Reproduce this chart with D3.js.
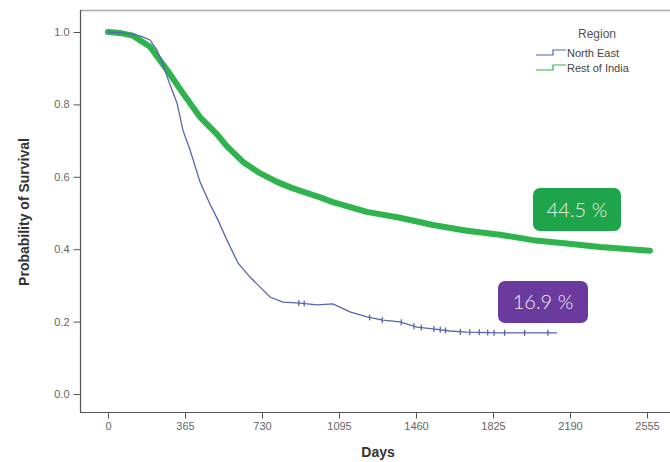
<!DOCTYPE html>
<html>
<head>
<meta charset="utf-8">
<script src="https://cdn.jsdelivr.net/npm/d3@7"></script>
<style>
  body { margin: 0; background: #fff; }
  svg { display: block; font-family: "Liberation Sans", Arial, sans-serif; }
  .axis text { fill: #666; font-size: 11px; }
  .axis line { stroke: #555; }
  .axis path { display: none; }
</style>
</head>
<body>
<div id="chart"></div>
<script>
// survival curves
var roiDays = [0, 60, 118, 199, 280, 355, 436, 517, 564, 640, 720, 801, 877, 1005, 1066, 1227, 1384, 1540, 1701, 1858, 2014, 2175, 2332, 2569];
var roiSurv = [1.0, 0.997, 0.99, 0.959, 0.895, 0.831, 0.765, 0.717, 0.684, 0.641, 0.610, 0.586, 0.568, 0.543, 0.530, 0.503, 0.487, 0.467, 0.451, 0.440, 0.425, 0.416, 0.406, 0.396];

var neDays = [0, 80, 152, 199, 232, 256, 294, 327, 355, 389, 436, 483, 521, 564, 616, 673, 720, 768, 829, 910, 991, 1066, 1147, 1227, 1303, 1384, 1464, 1540, 1621, 1701, 1858, 2128];
var neSurv = [1.0, 0.997, 0.989, 0.978, 0.950, 0.917, 0.854, 0.804, 0.729, 0.674, 0.586, 0.525, 0.481, 0.425, 0.362, 0.323, 0.296, 0.268, 0.254, 0.251, 0.246, 0.249, 0.227, 0.213, 0.204, 0.199, 0.185, 0.180, 0.174, 0.171, 0.169, 0.169];
var neCensored = [905, 930, 1240, 1300, 1390, 1450, 1485, 1545, 1575, 1600, 1670, 1715, 1760, 1800, 1830, 1880, 1975, 2085];

var xTicks = [0, 365, 730, 1095, 1460, 1825, 2190, 2555];
var yTicks = [0, 0.2, 0.4, 0.6, 0.8, 1.0];

var legendTitle = "Region";
var groups = ["North East", "Rest of India"];
var groupColors = ["#5862b4", "#2fb34c"];
var callouts = [
  {text: "44.5 %", fill: "#1ea54b"},
  {text: "16.9 %", fill: "#6b3a9e"}
];

var width = 670, height = 462;
var svg = d3.select("#chart").append("svg")
    .attr("width", width)
    .attr("height", height);

var xScale = d3.scaleLinear().domain([0, 2555]).range([108, 647]);
var yScale = d3.scaleLinear().domain([0, 1]).range([394, 32]);

// frame
svg.append("line").attr("x1", 80).attr("x2", 670).attr("y1", 10.5).attr("y2", 10.5)
    .attr("stroke", "#aaa").attr("stroke-width", 1.5);
svg.append("line").attr("x1", 80.5).attr("x2", 80.5).attr("y1", 10).attr("y2", 412)
    .attr("stroke", "#555").attr("stroke-width", 1.2);
svg.append("line").attr("x1", 80).attr("x2", 670).attr("y1", 412.5).attr("y2", 412.5)
    .attr("stroke", "#555").attr("stroke-width", 1.2);

svg.append("g")
    .attr("class", "axis")
    .attr("transform", "translate(80.5,0)")
    .call(d3.axisLeft(yScale).tickValues(yTicks).tickFormat(d3.format(".1f")).tickSize(7).tickPadding(4));

svg.append("g")
    .attr("class", "axis")
    .attr("transform", "translate(0,412.5)")
    .call(d3.axisBottom(xScale).tickValues(xTicks).tickFormat(d3.format("d")).tickSize(6).tickPadding(4));

svg.append("text")
    .attr("x", 378)
    .attr("y", 457)
    .attr("text-anchor", "middle")
    .attr("font-size", 14)
    .attr("font-weight", "bold")
    .attr("fill", "#333")
    .text("Days");

svg.append("text")
    .attr("transform", "rotate(-90)")
    .attr("x", -212)
    .attr("y", 29)
    .attr("text-anchor", "middle")
    .attr("font-family", "'Liberation Sans Narrow', 'Arial Narrow', sans-serif")
    .attr("font-size", 14)
    .attr("font-weight", "bold")
    .attr("fill", "#333")
    .text("Probability of Survival");

var line = d3.line()
    .x(function(d) { return xScale(d[0]); })
    .y(function(d) { return yScale(d[1]); });

var roi = d3.zip(roiDays, roiSurv);
var ne = d3.zip(neDays, neSurv);

svg.append("path")
    .datum(roi)
    .attr("d", line)
    .attr("fill", "none")
    .attr("stroke", groupColors[1])
    .attr("stroke-width", 6)
    .attr("stroke-linecap", "round")
    .attr("stroke-linejoin", "round");

svg.append("path")
    .datum(ne)
    .attr("d", line)
    .attr("fill", "none")
    .attr("stroke", groupColors[0])
    .attr("stroke-width", 1.3);

// censor marks on the north east curve
function neAt(day) {
  var i = d3.bisectRight(neDays, day);
  if (i >= neDays.length) return neSurv[neSurv.length - 1];
  var t = (day - neDays[i - 1]) / (neDays[i] - neDays[i - 1]);
  return neSurv[i - 1] + t * (neSurv[i] - neSurv[i - 1]);
}

svg.selectAll(".cens")
    .data(neCensored)
    .enter()
    .append("line")
    .attr("class", "cens")
    .attr("x1", function(d) { return xScale(d); })
    .attr("x2", function(d) { return xScale(d); })
    .attr("y1", function(d) { return yScale(neAt(d)) - 3; })
    .attr("y2", function(d) { return yScale(neAt(d)) + 3; })
    .attr("stroke", groupColors[0])
    .attr("stroke-width", 1.3);

// legend
svg.append("text")
    .attr("x", 597).attr("y", 38)
    .attr("text-anchor", "middle")
    .attr("font-size", 12)
    .attr("fill", "#555")
    .text(legendTitle);

var leg = svg.selectAll(".leg")
    .data(groups)
    .enter()
    .append("g")
    .attr("class", "leg")
    .attr("transform", function(d, i) { return "translate(0," + (53 + i * 15) + ")"; });

leg.append("path")
    .attr("d", "M536,2 H553 V-3 H566")
    .attr("fill", "none")
    .attr("stroke", function(d, i) { return groupColors[i]; })
    .attr("stroke-width", 1.2);

leg.append("text")
    .attr("x", 567).attr("y", 4)
    .attr("font-size", 11)
    .attr("fill", "#444")
    .text(function(d) { return d; });

// percentage callouts
var boxes = [
  {x: 533, y: 188, w: 88, h: 43},
  {x: 498, y: 281, w: 90, h: 42}
];

var call = svg.selectAll(".callout")
    .data(callouts)
    .enter()
    .append("g")
    .attr("class", "callout");

call.append("rect")
    .attr("x", function(d, i) { return boxes[i].x; })
    .attr("y", function(d, i) { return boxes[i].y; })
    .attr("width", function(d, i) { return boxes[i].w; })
    .attr("height", function(d, i) { return boxes[i].h; })
    .attr("rx", 7)
    .attr("fill", function(d) { return d.fill; });

call.append("text")
    .attr("x", function(d, i) { return boxes[i].x + boxes[i].w / 2; })
    .attr("y", function(d, i) { return boxes[i].y + boxes[i].h / 2 + 7; })
    .attr("text-anchor", "middle")
    .attr("font-family", "Lato, 'Open Sans', sans-serif")
    .attr("font-weight", 300)
    .attr("font-size", 20)
    .attr("fill", "#eef2ee")
    .text(function(d) { return d.text; });
</script>
</body>
</html>
